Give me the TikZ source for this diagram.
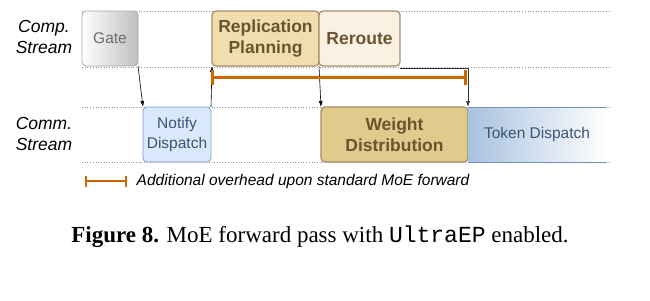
\documentclass[tikz,border=0pt]{standalone}
\usepackage{fontspec}
\setmainfont{Liberation Serif}
\setsansfont{Liberation Sans}
\setmonofont{Liberation Mono}
\usetikzlibrary{arrows.meta}
\definecolor{repfill}{HTML}{F2DDAE}
\definecolor{rerfill}{HTML}{FBF1E2}
\definecolor{wdfill}{HTML}{E2C98C}
\definecolor{tanline}{HTML}{A38D6A}
\definecolor{tantext}{HTML}{6B5430}
\definecolor{nfill}{HTML}{DAE8FC}
\definecolor{nline}{HTML}{7FA0C8}
\definecolor{ntext}{HTML}{3D5573}
\definecolor{tdleft}{HTML}{A7C2DF}
\definecolor{ovcol}{HTML}{CC6600}

\begin{document}
\begin{tikzpicture}[x=1pt,y=-1pt,line width=0.8pt,>={Latex[length=6pt,width=4pt]},
  lane/.style={dotted,gray!80,line width=0.7pt},
  stage/.style={anchor=north west,rounded corners=4pt,outer sep=0pt,inner sep=0pt,
    minimum height=55pt,align=center,font=\sffamily\fontsize{15.5}{20}\selectfont},
  tanbox/.style={stage,draw=tanline,text=tantext,line width=1.2pt,
    font=\sffamily\bfseries\fontsize{17.5}{21}\selectfont},
  lbl/.style={align=center,font=\sffamily\itshape\fontsize{17.5}{21}\selectfont},
  flow/.style={->,black,line width=0.6pt},
  over/.style={ovcol,line width=3pt,{Bar[width=15pt,line width=3pt]}-{Bar[width=15pt,line width=3pt]}}]
  \useasboundingbox (0,0) rectangle (650,300);
  % lanes
  \foreach \y in {11,67,107,162} \draw[lane] (82,\y) -- (610,\y);
  \node[lbl] (comp) at (44,37) {Comp.\\Stream};
  \node[lbl] (comm) at (44,134) {Comm.\\Stream};
  % computation stream
  \node[stage,minimum width=56pt,left color=white,right color=gray!50,draw=gray!70,text=gray!85!black] (gate) at (82,11) {Gate};
  \node[tanbox,minimum width=107pt,fill=repfill] (rep) at (212,11) {Replication\\Planning};
  \node[tanbox,minimum width=81pt,fill=rerfill] (reroute) at (319,11) {Reroute};
  % communication stream
  \node[stage,minimum width=68pt,fill=nfill,draw=nline,text=ntext] (notify) at (143,107) {Notify\\Dispatch};
  \node[tanbox,minimum width=147pt,fill=wdfill] (weight) at (321,107) {Weight\\Distribution};
  \node[stage,rounded corners=0pt,minimum width=138pt,left color=tdleft,right color=white,text=ntext] (token) at (468,107) {Token Dispatch};
  \draw[nline!90!black,line width=0.6pt] (token.north west) -- (token.north east);
  \draw[nline!90!black,line width=0.6pt] (token.south west) -- (token.south east);
  % dependencies
  \draw[flow] (gate.south east) -- (notify.north west);
  \draw[flow] (notify.north east) -- (rep.south west);
  \draw[flow] (rep.south east) -- (weight.north west);
  \draw[flow,gray!40!black] ([yshift=-2pt]reroute.south east) -| (token.north west);
  % overhead
  \coordinate (ovl) at (211,77);
  \coordinate (ovr) at (467,77);
  \draw[over] (ovl) -- (ovr);
  \coordinate (lgl) at (85,181);
  \coordinate (lgr) at (127,181);
  \draw[ovcol,line width=2pt,{Bar[width=11pt,line width=2pt]}-{Bar[width=11pt,line width=2pt]}] (lgl) -- (lgr);
  \node[anchor=west,font=\sffamily\itshape\fontsize{15.5}{18}\selectfont] (legend) at (133,181) {Additional overhead upon standard MoE forward};
  \node[font=\fontsize{23}{27}\selectfont] (cap) at (320,237) {\textbf{Figure 8.} MoE forward pass with \texttt{UltraEP} enabled.};
\end{tikzpicture}
\end{document}
